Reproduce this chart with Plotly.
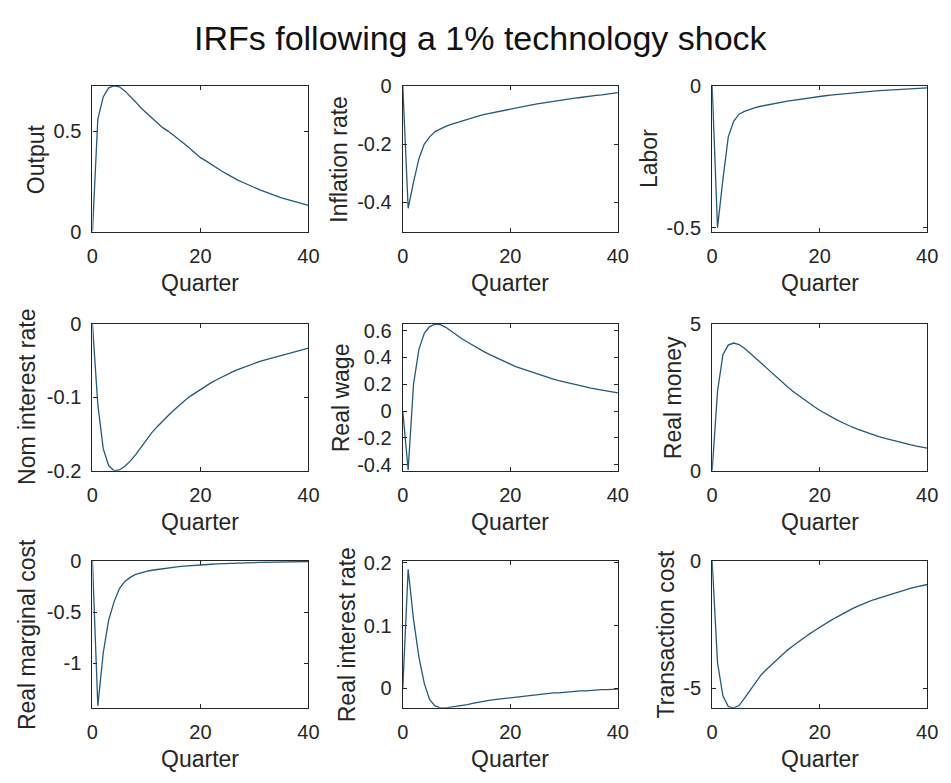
import plotly.graph_objects as go

# ---------------- data ----------------
quarters = list(range(41))

output = [0, 0.56, 0.67, 0.715, 0.725, 0.72, 0.70, 0.675, 0.645, 0.615, 0.59,
          0.565, 0.54, 0.517, 0.50, 0.48, 0.46, 0.437, 0.415, 0.393, 0.368,
          0.352, 0.334, 0.318, 0.30, 0.285, 0.268, 0.255, 0.243, 0.23, 0.218,
          0.208, 0.198, 0.187, 0.177, 0.168, 0.16, 0.152, 0.144, 0.137, 0.13]

inflation = [0, -0.42, -0.33, -0.25, -0.20, -0.175, -0.157, -0.147, -0.139, -0.132, -0.126,
             -0.12, -0.115, -0.11, -0.104, -0.099, -0.095, -0.091, -0.087, -0.083, -0.079,
             -0.075, -0.072, -0.068, -0.065, -0.062, -0.059, -0.055, -0.052, -0.05, -0.047,
             -0.045, -0.042, -0.04, -0.037, -0.035, -0.033, -0.031, -0.028, -0.025, -0.023]

labor = [0, -0.50, -0.33, -0.18, -0.125, -0.10, -0.09, -0.083, -0.077, -0.072, -0.068,
         -0.064, -0.06, -0.057, -0.054, -0.051, -0.048, -0.045, -0.042, -0.04, -0.037,
         -0.035, -0.033, -0.031, -0.029, -0.027, -0.025, -0.023, -0.022, -0.02, -0.019,
         -0.017, -0.016, -0.015, -0.013, -0.012, -0.011, -0.01, -0.009, -0.008, -0.007]

nom_rate = [0, -0.11, -0.17, -0.193, -0.20, -0.199, -0.194, -0.187, -0.178, -0.168, -0.158,
            -0.148, -0.14, -0.132, -0.125, -0.118, -0.111, -0.105, -0.099, -0.094, -0.089,
            -0.085, -0.08, -0.076, -0.072, -0.068, -0.065, -0.062, -0.059, -0.056, -0.054,
            -0.051, -0.049, -0.047, -0.045, -0.043, -0.041, -0.039, -0.037, -0.035, -0.033]

real_wage = [0, -0.44, 0.20, 0.46, 0.58, 0.63, 0.648, 0.645, 0.625, 0.595, 0.565,
             0.54, 0.515, 0.49, 0.465, 0.445, 0.425, 0.405, 0.385, 0.365, 0.35,
             0.332, 0.318, 0.303, 0.29, 0.276, 0.262, 0.25, 0.238, 0.227, 0.217,
             0.207, 0.197, 0.188, 0.18, 0.172, 0.164, 0.157, 0.15, 0.142, 0.135]

real_money = [0, 2.7, 3.95, 4.28, 4.35, 4.30, 4.17, 4.02, 3.86, 3.69, 3.52,
              3.35, 3.18, 3.02, 2.86, 2.71, 2.57, 2.43, 2.30, 2.18, 2.06,
              1.95, 1.85, 1.75, 1.66, 1.57, 1.49, 1.42, 1.35, 1.28, 1.22,
              1.16, 1.11, 1.06, 1.01, 0.96, 0.92, 0.88, 0.84, 0.80, 0.77]

real_mc = [0, -1.42, -0.90, -0.58, -0.40, -0.27, -0.20, -0.16, -0.13, -0.113, -0.10,
           -0.09, -0.082, -0.074, -0.067, -0.061, -0.055, -0.05, -0.045, -0.041, -0.037,
           -0.034, -0.031, -0.028, -0.025, -0.023, -0.021, -0.019, -0.017, -0.015, -0.014,
           -0.012, -0.011, -0.01, -0.009, -0.008, -0.007, -0.006, -0.005, -0.005, -0.004]

real_rate = [0, 0.19, 0.11, 0.05, 0.008, -0.018, -0.028, -0.031, -0.031, -0.03, -0.029,
             -0.028, -0.026, -0.024, -0.022, -0.021, -0.019, -0.018, -0.017, -0.015, -0.014,
             -0.013, -0.012, -0.011, -0.01, -0.009, -0.009, -0.008, -0.007, -0.007, -0.006,
             -0.005, -0.005, -0.004, -0.004, -0.003, -0.003, -0.002, -0.002, -0.001, -0.001]

trans_cost = [0, -4.0, -5.3, -5.72, -5.77, -5.68, -5.40, -5.10, -4.80, -4.50, -4.28,
              -4.08, -3.88, -3.68, -3.50, -3.34, -3.18, -3.03, -2.88, -2.74, -2.60,
              -2.47, -2.34, -2.22, -2.10, -1.99, -1.88, -1.78, -1.68, -1.60, -1.52,
              -1.45, -1.38, -1.31, -1.24, -1.18, -1.12, -1.06, -1.01, -0.96, -0.92]

x_tickvals = [0, 20, 40]
x_ticktext = ["0", "20", "40"]

labels = ["Output", "Inflation rate", "Labor",
          "Nom interest rate", "Real wage", "Real money",
          "Real marginal cost", "Real interest rate", "Transaction cost"]
series = [output, inflation, labor, nom_rate, real_wage, real_money,
          real_mc, real_rate, trans_cost]
y_ranges = [[0, 0.725], [-0.5, 0], [-0.514, 0],
            [-0.2, 0], [-0.445, 0.65], [0, 5],
            [-1.44, 0], [-0.031, 0.203], [-5.77, 0]]
y_tickvals = [[0, 0.5], [-0.4, -0.2, 0], [-0.5, 0],
              [-0.2, -0.1, 0], [-0.4, -0.2, 0, 0.2, 0.4, 0.6], [0, 5],
              [-1, -0.5, 0], [0, 0.1, 0.2], [-5, 0]]
y_ticktext = [["0", "0.5"], ["-0.4", "-0.2", "0"], ["-0.5", "0"],
              ["-0.2", "-0.1", "0"], ["-0.4", "-0.2", "0", "0.2", "0.4", "0.6"], ["0", "5"],
              ["-1", "-0.5", "0"], ["0", "0.1", "0.2"], ["-5", "0"]]

title_text = "IRFs following a 1% technology shock"
xlabel = "Quarter"

# ---------------- layout geometry (pixels) ----------------
W, H = 951, 783
col_px = [(88, 308), (404, 623), (719, 938)]
row_px = [(77, 227), (322, 473), (566, 717)]
ylabel_x = [30, 339, 654, 22, 341, 679, 22, 348, 672]

FONT = "Liberation Sans, Arial, sans-serif"
TXT = "#262626"
LINE = "#24597a"

fig = go.Figure()
layout = {}
annotations = []

for i in range(9):
    r, c = divmod(i, 3)
    n = i + 1
    xa = "x" if n == 1 else f"x{n}"
    ya = "y" if n == 1 else f"y{n}"
    xkey = "xaxis" if n == 1 else f"xaxis{n}"
    ykey = "yaxis" if n == 1 else f"yaxis{n}"
    x0, x1 = col_px[c]
    yt, yb = row_px[r]

    fig.add_trace(go.Scatter(x=quarters, y=series[i], mode="lines",
                             line=dict(color=LINE, width=1.3),
                             xaxis=xa, yaxis=ya, showlegend=False,
                             hoverinfo="skip"))

    common = dict(showline=True, linecolor=TXT, linewidth=1.2, mirror="ticks",
                  ticks="inside", ticklen=4, tickcolor=TXT, tickwidth=1,
                  showgrid=False, zeroline=False, fixedrange=True,
                  tickfont=dict(family=FONT, size=20, color=TXT),
                  ticklabelstandoff=6)
    layout[xkey] = dict(common, domain=[x0 / W, x1 / W], anchor=ya,
                        range=[0, 40], tickmode="array",
                        tickvals=x_tickvals, ticktext=x_ticktext)
    layout[ykey] = dict(common, domain=[1 - yb / H, 1 - yt / H], anchor=xa,
                        range=y_ranges[i], tickmode="array",
                        tickvals=y_tickvals[i], ticktext=y_ticktext[i])

    # x label
    annotations.append(dict(text=xlabel, xref="paper", yref="paper",
                            x=(x0 + x1) / 2 / W, y=1 - (yb + 53) / H,
                            xanchor="center", yanchor="middle", showarrow=False,
                            font=dict(family=FONT, size=23, color=TXT)))
    # y label
    annotations.append(dict(text=labels[i], xref="paper", yref="paper",
                            x=ylabel_x[i] / W, y=1 - (yt + yb) / 2 / H,
                            xanchor="center", yanchor="middle", textangle=-90,
                            showarrow=False,
                            font=dict(family=FONT, size=23, color=TXT)))

annotations.append(dict(text=title_text, xref="paper", yref="paper",
                        x=484 / W, y=1 - 28 / H, xanchor="center", yanchor="middle",
                        showarrow=False, font=dict(family=FONT, size=34, color="#111111")))

fig.update_layout(width=W, height=H, margin=dict(l=0, r=0, t=0, b=0),
                  paper_bgcolor="white", plot_bgcolor="white",
                  annotations=annotations, showlegend=False, **layout)

fig.write_html("out.html")
